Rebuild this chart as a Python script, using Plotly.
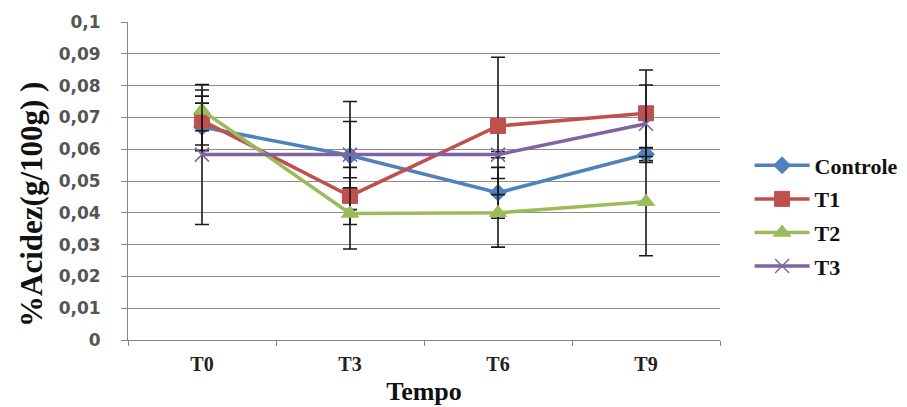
import plotly.graph_objects as go

categories = ["T0", "T3", "T6", "T9"]
series_names = ["Controle", "T1", "T2", "T3"]
controle = [0.067, 0.058, 0.0463, 0.0584]
t1 = [0.069, 0.0453, 0.0673, 0.0713]
t2 = [0.0722, 0.0398, 0.040, 0.0435]
t3 = [0.0583, 0.0583, 0.0583, 0.068]
err_controle = [0.0075, 0.017, 0.008, 0.002]
err_t1 = [0.0077, 0.009, 0.0216, 0.0136]
err_t2 = [0.0064, 0.0112, 0.0108, 0.017]
err_t3 = [0.022, 0.0104, 0.001, 0.0122]

colors = ["#4F81BD", "#C0504D", "#9BBB59", "#8064A2"]
symbols = ["diamond", "square", "triangle-up", "x-thin-open"]
sizes = [13, 15, 15, 14]
values = [controle, t1, t2, t3]
errors = [err_controle, err_t1, err_t2, err_t3]

fig = go.Figure()
for i, (name, vals, errs, col, sym, sz) in enumerate(zip(series_names, values, errors, colors, symbols, sizes)):
    marker = dict(symbol=sym, size=sz, color=col)
    if sym == "x-thin-open":
        marker["line"] = dict(color=col, width=1.5)
    else:
        marker["line"] = dict(color=col, width=1)
    fig.add_trace(go.Scatter(
        x=categories, y=vals,
        name="<span style='font-family:Liberation Serif'>%s</span>" % name,
        mode="lines+markers",
        legendgroup="g%d" % i,
        line=dict(color=col, width=3.5),
        marker=marker,
        error_y=dict(type="data", array=errs, visible=True, color="#1a1a1a",
                     thickness=1.6, width=7),
    ))

serif = "Liberation Serif"

fig.update_layout(
    width=907, height=407,
    margin=dict(l=120, r=195, t=14, b=75),
    paper_bgcolor="white", plot_bgcolor="white",
    font=dict(family=serif, color="#111111"),
    separators=",.",
    showlegend=True,
    legend=dict(x=1.05, y=0.39, xanchor="left", yanchor="middle",
                font=dict(family=serif, size=22, color="#111111", weight="bold"),
                bgcolor="rgba(0,0,0,0)", itemwidth=55, tracegroupgap=2,
                traceorder="grouped"),
    xaxis=dict(
        type="category", range=[-0.5, 3.5], automargin=False,
        showline=True, linecolor="#868686", linewidth=1,
        ticks="outside", tickson="boundaries", ticklen=5, tickcolor="#868686",
        showgrid=False, ticklabelstandoff=6,
        tickfont=dict(family=serif, size=20, color="#222222", weight="bold"),
        title=dict(text="<b>Tempo</b>", font=dict(family=serif, size=26, color="#111111"),
                   standoff=7),
    ),
    yaxis=dict(
        range=[0, 0.1], dtick=0.01, tick0=0, automargin=False,
        showline=True, linecolor="#868686", linewidth=1,
        ticks="outside", ticklen=6, tickcolor="#868686",
        showgrid=True, gridcolor="#8c8c8c", gridwidth=1,
        zeroline=False, ticklabelstandoff=17,
        tickfont=dict(family="DejaVu Sans", size=17, color="#555555", weight="bold"),
    ),
    annotations=[dict(
        text="<b>%Acidez(g/100g) )</b>", xref="paper", yref="paper",
        x=-0.162, y=0.425, xanchor="center", yanchor="middle", textangle=-90,
        showarrow=False,
        font=dict(family=serif, size=31, color="#111111"),
    )],
)

fig.write_html("out.html")
